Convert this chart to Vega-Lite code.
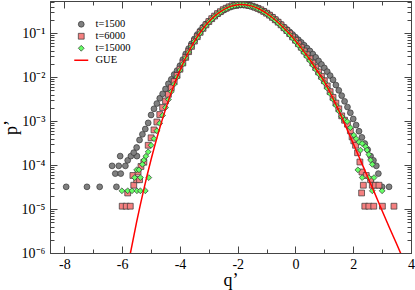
{
  "$schema": "https://vega.github.io/schema/vega-lite/v6.json",
  "width": 361,
  "height": 252,
  "autosize": "none",
  "padding": {"left": 50, "top": 1, "right": 4, "bottom": 37},
  "background": "white",
  "config": {
    "view": {"stroke": null},
    "font": "Liberation Serif",
    "axis": {
      "grid": false,
      "domainColor": "#444444",
      "domainWidth": 1,
      "tickColor": "#444444",
      "tickWidth": 1,
      "labelColor": "#000000",
      "titleColor": "#000000",
      "labelFont": "Liberation Serif",
      "titleFont": "Liberation Serif",
      "titleFontWeight": "normal",
      "labelFontSize": 14,
      "titleFontSize": 18,
      "labelFlush": false,
      "labelOverlap": false
    },
    "legend": {
      "orient": "none",
      "legendX": 26,
      "legendY": 18,
      "labelFont": "Liberation Serif",
      "labelFontSize": 10.5,
      "labelColor": "#000000",
      "symbolSize": 34,
      "labelOffset": 9,
      "rowPadding": 1,
      "padding": 0,
      "symbolStrokeWidth": 0.7,
      "symbolOpacity": 1
    }
  },
  "datasets": {
    "gue": [
      {"q": -5.75, "p": 7.65e-7}, {"q": -5.5, "p": 5.09e-6}, {"q": -5.25, "p": 2.84e-5}, {"q": -5.0, "p": 1.34e-4},
      {"q": -4.75, "p": 5.38e-4}, {"q": -4.5, "p": 1.85e-3}, {"q": -4.25, "p": 5.51e-3}, {"q": -4.0, "p": 0.01428},
      {"q": -3.75, "p": 0.03239}, {"q": -3.5, "p": 0.0649}, {"q": -3.25, "p": 0.1154}, {"q": -3.0, "p": 0.182},
      {"q": -2.75, "p": 0.261}, {"q": -2.5, "p": 0.341}, {"q": -2.25, "p": 0.407}, {"q": -2.0, "p": 0.4447},
      {"q": -1.9, "p": 0.4498}, {"q": -1.75, "p": 0.4462}, {"q": -1.5, "p": 0.4131}, {"q": -1.25, "p": 0.3544},
      {"q": -1.0, "p": 0.2837}, {"q": -0.75, "p": 0.2134}, {"q": -0.5, "p": 0.1519}, {"q": -0.25, "p": 0.1031},
      {"q": 0.0, "p": 0.06705}, {"q": 0.25, "p": 0.04168}, {"q": 0.5, "p": 0.02483}, {"q": 0.75, "p": 0.01396},
      {"q": 1.0, "p": 0.00794}, {"q": 1.25, "p": 0.0038}, {"q": 1.5, "p": 0.001738}, {"q": 1.75, "p": 0.000741},
      {"q": 2.0, "p": 0.000309}, {"q": 2.25, "p": 0.000129}, {"q": 2.5, "p": 5.37e-5}, {"q": 2.75, "p": 2.24e-5},
      {"q": 3.0, "p": 9.12e-6}, {"q": 3.25, "p": 3.8e-6}, {"q": 3.5, "p": 1.62e-6}, {"q": 3.75, "p": 6.76e-7}
    ],
    "pts": [
      {"s": "t=1500", "q": -7.94, "p": 3.2e-5}, {"s": "t=1500", "q": -7.22, "p": 3.2e-5}, {"s": "t=1500", "q": -6.78, "p": 3.2e-5}, {"s": "t=1500", "q": -6.2, "p": 3.2e-5},
      {"s": "t=1500", "q": -6.35, "p": 9.6e-5}, {"s": "t=1500", "q": -6.12, "p": 9.6e-5}, {"s": "t=1500", "q": -5.89, "p": 9.6e-5}, {"s": "t=1500", "q": -6.24, "p": 6.4e-5},
      {"s": "t=1500", "q": -6.05, "p": 6.4e-5}, {"s": "t=1500", "q": -6.07, "p": 1.6e-4}, {"s": "t=1500", "q": -5.81, "p": 1.28e-4}, {"s": "t=1500", "q": -5.49, "p": 1.6e-4},
      {"s": "t=1500", "q": -5.7, "p": 1.6e-4}, {"s": "t=1500", "q": -5.6, "p": 1.92e-4}, {"s": "t=1500", "q": -5.5, "p": 2.51e-4}, {"s": "t=1500", "q": -5.4, "p": 3.72e-4},
      {"s": "t=1500", "q": -5.3, "p": 5.01e-4}, {"s": "t=1500", "q": -5.2, "p": 6.61e-4}, {"s": "t=1500", "q": -5.1, "p": 9.12e-4}, {"s": "t=1500", "q": -5.0, "p": 1.38e-3},
      {"s": "t=1500", "q": -4.9, "p": 1.905e-3}, {"s": "t=1500", "q": -4.8, "p": 2.51e-3}, {"s": "t=1500", "q": -4.7, "p": 3.31e-3}, {"s": "t=1500", "q": -4.6, "p": 4.17e-3},
      {"s": "t=1500", "q": -4.5, "p": 5.37e-3}, {"s": "t=1500", "q": -4.4, "p": 7.08e-3}, {"s": "t=1500", "q": -4.3, "p": 8.91e-3}, {"s": "t=1500", "q": -4.2, "p": 0.01148},
      {"s": "t=1500", "q": -4.1, "p": 0.01413}, {"s": "t=1500", "q": -4.0, "p": 0.0182}, {"s": "t=1500", "q": -3.9, "p": 0.0251}, {"s": "t=1500", "q": -3.8, "p": 0.0339},
      {"s": "t=1500", "q": -3.7, "p": 0.0447}, {"s": "t=1500", "q": -3.6, "p": 0.0575}, {"s": "t=1500", "q": -3.5, "p": 0.0741}, {"s": "t=1500", "q": -3.4, "p": 0.0933},
      {"s": "t=1500", "q": -3.3, "p": 0.1148}, {"s": "t=1500", "q": -3.2, "p": 0.138}, {"s": "t=1500", "q": -3.1, "p": 0.162}, {"s": "t=1500", "q": -3.0, "p": 0.186},
      {"s": "t=1500", "q": -2.9, "p": 0.214}, {"s": "t=1500", "q": -2.8, "p": 0.245}, {"s": "t=1500", "q": -2.7, "p": 0.275}, {"s": "t=1500", "q": -2.6, "p": 0.302},
      {"s": "t=1500", "q": -2.5, "p": 0.331}, {"s": "t=1500", "q": -2.4, "p": 0.363}, {"s": "t=1500", "q": -2.3, "p": 0.389}, {"s": "t=1500", "q": -2.2, "p": 0.407},
      {"s": "t=1500", "q": -2.1, "p": 0.422}, {"s": "t=1500", "q": -2.0, "p": 0.431}, {"s": "t=1500", "q": -1.9, "p": 0.437}, {"s": "t=1500", "q": -1.8, "p": 0.437},
      {"s": "t=1500", "q": -1.7, "p": 0.431}, {"s": "t=1500", "q": -1.6, "p": 0.422}, {"s": "t=1500", "q": -1.5, "p": 0.407}, {"s": "t=1500", "q": -1.4, "p": 0.389},
      {"s": "t=1500", "q": -1.3, "p": 0.363}, {"s": "t=1500", "q": -1.2, "p": 0.339}, {"s": "t=1500", "q": -1.1, "p": 0.316}, {"s": "t=1500", "q": -1.0, "p": 0.288},
      {"s": "t=1500", "q": -0.9, "p": 0.263}, {"s": "t=1500", "q": -0.8, "p": 0.234}, {"s": "t=1500", "q": -0.7, "p": 0.207}, {"s": "t=1500", "q": -0.6, "p": 0.182},
      {"s": "t=1500", "q": -0.5, "p": 0.1585}, {"s": "t=1500", "q": -0.4, "p": 0.138}, {"s": "t=1500", "q": -0.3, "p": 0.1216}, {"s": "t=1500", "q": -0.2, "p": 0.1072},
      {"s": "t=1500", "q": -0.1, "p": 0.0933}, {"s": "t=1500", "q": 0.0, "p": 0.0813}, {"s": "t=1500", "q": 0.1, "p": 0.0708}, {"s": "t=1500", "q": 0.2, "p": 0.0617},
      {"s": "t=1500", "q": 0.3, "p": 0.0531}, {"s": "t=1500", "q": 0.4, "p": 0.0457}, {"s": "t=1500", "q": 0.5, "p": 0.0394}, {"s": "t=1500", "q": 0.6, "p": 0.0335},
      {"s": "t=1500", "q": 0.7, "p": 0.0282}, {"s": "t=1500", "q": 0.8, "p": 0.0234}, {"s": "t=1500", "q": 0.9, "p": 0.0195}, {"s": "t=1500", "q": 1.0, "p": 0.0162},
      {"s": "t=1500", "q": 1.1, "p": 0.01334}, {"s": "t=1500", "q": 1.2, "p": 0.01084}, {"s": "t=1500", "q": 1.3, "p": 8.71e-3}, {"s": "t=1500", "q": 1.4, "p": 6.61e-3},
      {"s": "t=1500", "q": 1.5, "p": 5.01e-3}, {"s": "t=1500", "q": 1.6, "p": 3.8e-3}, {"s": "t=1500", "q": 1.7, "p": 2.82e-3}, {"s": "t=1500", "q": 1.8, "p": 2.09e-3},
      {"s": "t=1500", "q": 1.9, "p": 1.55e-3}, {"s": "t=1500", "q": 2.0, "p": 1.122e-3}, {"s": "t=1500", "q": 2.1, "p": 8.13e-4}, {"s": "t=1500", "q": 2.2, "p": 5.89e-4},
      {"s": "t=1500", "q": 2.3, "p": 4.27e-4}, {"s": "t=1500", "q": 2.4, "p": 3.09e-4}, {"s": "t=1500", "q": 2.5, "p": 2.24e-4}, {"s": "t=1500", "q": 2.6, "p": 1.6e-4},
      {"s": "t=1500", "q": 2.7, "p": 1.28e-4}, {"s": "t=1500", "q": 2.8, "p": 9.6e-5}, {"s": "t=1500", "q": 2.87, "p": 6.4e-5}, {"s": "t=1500", "q": 3.0, "p": 3.2e-5},
      {"s": "t=1500", "q": 3.24, "p": 3.2e-5},

      {"s": "t=6000", "q": -6.0, "p": 1.16e-5}, {"s": "t=6000", "q": -5.86, "p": 1.16e-5}, {"s": "t=6000", "q": -5.72, "p": 1.16e-5}, {"s": "t=6000", "q": -5.81, "p": 2.32e-5},
      {"s": "t=6000", "q": -5.6, "p": 3.48e-5}, {"s": "t=6000", "q": -5.5, "p": 4.64e-5}, {"s": "t=6000", "q": -5.63, "p": 5.8e-5}, {"s": "t=6000", "q": -5.45, "p": 6.96e-5},
      {"s": "t=6000", "q": -5.35, "p": 9.3e-5}, {"s": "t=6000", "q": -5.25, "p": 1.16e-4}, {"s": "t=6000", "q": -5.4, "p": 4.64e-5},
      {"s": "t=6000", "q": -5.1, "p": 2.82e-4}, {"s": "t=6000", "q": -5.0, "p": 4.17e-4}, {"s": "t=6000", "q": -4.9, "p": 6.31e-4}, {"s": "t=6000", "q": -4.8, "p": 9.55e-4},
      {"s": "t=6000", "q": -4.7, "p": 1.413e-3}, {"s": "t=6000", "q": -4.6, "p": 2.04e-3}, {"s": "t=6000", "q": -4.5, "p": 2.88e-3}, {"s": "t=6000", "q": -4.4, "p": 4.07e-3},
      {"s": "t=6000", "q": -4.3, "p": 5.75e-3}, {"s": "t=6000", "q": -4.2, "p": 7.94e-3}, {"s": "t=6000", "q": -4.1, "p": 0.01096}, {"s": "t=6000", "q": -4.0, "p": 0.01514},
      {"s": "t=6000", "q": -3.9, "p": 0.0209}, {"s": "t=6000", "q": -3.8, "p": 0.0282}, {"s": "t=6000", "q": -3.7, "p": 0.038}, {"s": "t=6000", "q": -3.6, "p": 0.0501},
      {"s": "t=6000", "q": -3.5, "p": 0.0661}, {"s": "t=6000", "q": -3.4, "p": 0.0832}, {"s": "t=6000", "q": -3.3, "p": 0.1047}, {"s": "t=6000", "q": -3.2, "p": 0.1288},
      {"s": "t=6000", "q": -3.1, "p": 0.155}, {"s": "t=6000", "q": -3.0, "p": 0.184}, {"s": "t=6000", "q": -2.9, "p": 0.214}, {"s": "t=6000", "q": -2.8, "p": 0.245},
      {"s": "t=6000", "q": -2.7, "p": 0.279}, {"s": "t=6000", "q": -2.6, "p": 0.309}, {"s": "t=6000", "q": -2.5, "p": 0.343}, {"s": "t=6000", "q": -2.4, "p": 0.37},
      {"s": "t=6000", "q": -2.3, "p": 0.398}, {"s": "t=6000", "q": -2.2, "p": 0.419}, {"s": "t=6000", "q": -2.1, "p": 0.434}, {"s": "t=6000", "q": -2.0, "p": 0.447},
      {"s": "t=6000", "q": -1.9, "p": 0.452}, {"s": "t=6000", "q": -1.8, "p": 0.452}, {"s": "t=6000", "q": -1.7, "p": 0.442}, {"s": "t=6000", "q": -1.6, "p": 0.427},
      {"s": "t=6000", "q": -1.5, "p": 0.412}, {"s": "t=6000", "q": -1.4, "p": 0.389}, {"s": "t=6000", "q": -1.3, "p": 0.367}, {"s": "t=6000", "q": -1.2, "p": 0.341},
      {"s": "t=6000", "q": -1.1, "p": 0.313}, {"s": "t=6000", "q": -1.0, "p": 0.285}, {"s": "t=6000", "q": -0.9, "p": 0.257}, {"s": "t=6000", "q": -0.8, "p": 0.229},
      {"s": "t=6000", "q": -0.7, "p": 0.202}, {"s": "t=6000", "q": -0.6, "p": 0.178}, {"s": "t=6000", "q": -0.5, "p": 0.155}, {"s": "t=6000", "q": -0.4, "p": 0.133},
      {"s": "t=6000", "q": -0.3, "p": 0.1148}, {"s": "t=6000", "q": -0.2, "p": 0.0977}, {"s": "t=6000", "q": -0.1, "p": 0.0822}, {"s": "t=6000", "q": 0.0, "p": 0.0692},
      {"s": "t=6000", "q": 0.1, "p": 0.0575}, {"s": "t=6000", "q": 0.2, "p": 0.0479}, {"s": "t=6000", "q": 0.3, "p": 0.0394}, {"s": "t=6000", "q": 0.4, "p": 0.0324},
      {"s": "t=6000", "q": 0.5, "p": 0.0263}, {"s": "t=6000", "q": 0.6, "p": 0.0209}, {"s": "t=6000", "q": 0.7, "p": 0.0166}, {"s": "t=6000", "q": 0.8, "p": 0.01318},
      {"s": "t=6000", "q": 0.9, "p": 0.01047}, {"s": "t=6000", "q": 1.0, "p": 8.32e-3}, {"s": "t=6000", "q": 1.1, "p": 6.31e-3}, {"s": "t=6000", "q": 1.2, "p": 4.68e-3},
      {"s": "t=6000", "q": 1.3, "p": 3.47e-3}, {"s": "t=6000", "q": 1.4, "p": 2.57e-3}, {"s": "t=6000", "q": 1.5, "p": 1.905e-3}, {"s": "t=6000", "q": 1.6, "p": 1.318e-3},
      {"s": "t=6000", "q": 1.7, "p": 1.047e-3}, {"s": "t=6000", "q": 1.8, "p": 8.51e-4}, {"s": "t=6000", "q": 1.9, "p": 6.03e-4}, {"s": "t=6000", "q": 1.96, "p": 4.37e-4},
      {"s": "t=6000", "q": 2.02, "p": 3.55e-4}, {"s": "t=6000", "q": 2.08, "p": 2.82e-4}, {"s": "t=6000", "q": 2.15, "p": 1.905e-4}, {"s": "t=6000", "q": 2.23, "p": 1.175e-4},
      {"s": "t=6000", "q": 2.3, "p": 6.96e-5}, {"s": "t=6000", "q": 2.35, "p": 3.48e-5}, {"s": "t=6000", "q": 2.29, "p": 2.32e-5}, {"s": "t=6000", "q": 2.45, "p": 5.8e-5},
      {"s": "t=6000", "q": 2.6, "p": 4.64e-5}, {"s": "t=6000", "q": 2.66, "p": 3.48e-5}, {"s": "t=6000", "q": 2.77, "p": 3.48e-5}, {"s": "t=6000", "q": 2.89, "p": 3.48e-5},
      {"s": "t=6000", "q": 2.4, "p": 1.16e-5}, {"s": "t=6000", "q": 2.54, "p": 1.16e-5}, {"s": "t=6000", "q": 2.71, "p": 1.16e-5}, {"s": "t=6000", "q": 3.01, "p": 1.16e-5},
      {"s": "t=6000", "q": 3.41, "p": 1.16e-5},

      {"s": "t=15000", "q": -6.01, "p": 2.6e-5}, {"s": "t=15000", "q": -5.81, "p": 2.6e-5}, {"s": "t=15000", "q": -5.66, "p": 2.6e-5}, {"s": "t=15000", "q": -5.49, "p": 2.6e-5},
      {"s": "t=15000", "q": -5.37, "p": 2.6e-5}, {"s": "t=15000", "q": -5.2, "p": 2.6e-5}, {"s": "t=15000", "q": -5.57, "p": 5.19e-5}, {"s": "t=15000", "q": -5.37, "p": 5.19e-5},
      {"s": "t=15000", "q": -5.08, "p": 5.19e-5}, {"s": "t=15000", "q": -5.5, "p": 7.78e-5}, {"s": "t=15000", "q": -5.42, "p": 7.78e-5}, {"s": "t=15000", "q": -5.3, "p": 1.038e-4},
      {"s": "t=15000", "q": -5.25, "p": 1.297e-4}, {"s": "t=15000", "q": -5.18, "p": 1.585e-4},
      {"s": "t=15000", "q": -5.1, "p": 2.0e-4}, {"s": "t=15000", "q": -5.0, "p": 2.82e-4}, {"s": "t=15000", "q": -4.9, "p": 3.98e-4}, {"s": "t=15000", "q": -4.8, "p": 6.03e-4},
      {"s": "t=15000", "q": -4.7, "p": 8.91e-4}, {"s": "t=15000", "q": -4.6, "p": 1.349e-3}, {"s": "t=15000", "q": -4.5, "p": 2.04e-3}, {"s": "t=15000", "q": -4.4, "p": 3.09e-3},
      {"s": "t=15000", "q": -4.3, "p": 4.68e-3}, {"s": "t=15000", "q": -4.2, "p": 6.92e-3}, {"s": "t=15000", "q": -4.1, "p": 0.01}, {"s": "t=15000", "q": -4.0, "p": 0.01445},
      {"s": "t=15000", "q": -3.9, "p": 0.01995}, {"s": "t=15000", "q": -3.8, "p": 0.0275}, {"s": "t=15000", "q": -3.7, "p": 0.0372}, {"s": "t=15000", "q": -3.6, "p": 0.049},
      {"s": "t=15000", "q": -3.5, "p": 0.0646}, {"s": "t=15000", "q": -3.4, "p": 0.0804}, {"s": "t=15000", "q": -3.3, "p": 0.1012}, {"s": "t=15000", "q": -3.2, "p": 0.1245},
      {"s": "t=15000", "q": -3.1, "p": 0.15}, {"s": "t=15000", "q": -3.0, "p": 0.18}, {"s": "t=15000", "q": -2.9, "p": 0.207}, {"s": "t=15000", "q": -2.8, "p": 0.24},
      {"s": "t=15000", "q": -2.7, "p": 0.272}, {"s": "t=15000", "q": -2.6, "p": 0.303}, {"s": "t=15000", "q": -2.5, "p": 0.337}, {"s": "t=15000", "q": -2.4, "p": 0.363},
      {"s": "t=15000", "q": -2.3, "p": 0.389}, {"s": "t=15000", "q": -2.2, "p": 0.411}, {"s": "t=15000", "q": -2.1, "p": 0.426}, {"s": "t=15000", "q": -2.0, "p": 0.441},
      {"s": "t=15000", "q": -1.9, "p": 0.446}, {"s": "t=15000", "q": -1.8, "p": 0.445}, {"s": "t=15000", "q": -1.7, "p": 0.437}, {"s": "t=15000", "q": -1.6, "p": 0.423},
      {"s": "t=15000", "q": -1.5, "p": 0.408}, {"s": "t=15000", "q": -1.4, "p": 0.385}, {"s": "t=15000", "q": -1.3, "p": 0.361}, {"s": "t=15000", "q": -1.2, "p": 0.335},
      {"s": "t=15000", "q": -1.1, "p": 0.305}, {"s": "t=15000", "q": -1.0, "p": 0.279}, {"s": "t=15000", "q": -0.9, "p": 0.248}, {"s": "t=15000", "q": -0.8, "p": 0.221},
      {"s": "t=15000", "q": -0.7, "p": 0.195}, {"s": "t=15000", "q": -0.6, "p": 0.17}, {"s": "t=15000", "q": -0.5, "p": 0.148}, {"s": "t=15000", "q": -0.4, "p": 0.1265},
      {"s": "t=15000", "q": -0.3, "p": 0.108}, {"s": "t=15000", "q": -0.2, "p": 0.0916}, {"s": "t=15000", "q": -0.1, "p": 0.0771}, {"s": "t=15000", "q": 0.0, "p": 0.0646},
      {"s": "t=15000", "q": 0.1, "p": 0.0535}, {"s": "t=15000", "q": 0.2, "p": 0.0441}, {"s": "t=15000", "q": 0.3, "p": 0.0361}, {"s": "t=15000", "q": 0.4, "p": 0.0293},
      {"s": "t=15000", "q": 0.5, "p": 0.0237}, {"s": "t=15000", "q": 0.6, "p": 0.0188}, {"s": "t=15000", "q": 0.7, "p": 0.015}, {"s": "t=15000", "q": 0.8, "p": 0.01189},
      {"s": "t=15000", "q": 0.9, "p": 9.44e-3}, {"s": "t=15000", "q": 1.0, "p": 7.5e-3}, {"s": "t=15000", "q": 1.1, "p": 5.62e-3}, {"s": "t=15000", "q": 1.2, "p": 4.22e-3},
      {"s": "t=15000", "q": 1.3, "p": 3.13e-3}, {"s": "t=15000", "q": 1.4, "p": 2.29e-3}, {"s": "t=15000", "q": 1.5, "p": 1.7e-3}, {"s": "t=15000", "q": 1.6, "p": 1.259e-3},
      {"s": "t=15000", "q": 1.7, "p": 1.047e-3}, {"s": "t=15000", "q": 1.79, "p": 9.77e-4}, {"s": "t=15000", "q": 1.9, "p": 7.08e-4}, {"s": "t=15000", "q": 2.02, "p": 4.79e-4},
      {"s": "t=15000", "q": 2.1, "p": 3.98e-4}, {"s": "t=15000", "q": 2.2, "p": 3.31e-4}, {"s": "t=15000", "q": 2.31, "p": 3.09e-4}, {"s": "t=15000", "q": 2.43, "p": 2.63e-4},
      {"s": "t=15000", "q": 2.25, "p": 2.19e-4}, {"s": "t=15000", "q": 2.48, "p": 2.19e-4}, {"s": "t=15000", "q": 2.54, "p": 1.74e-4}, {"s": "t=15000", "q": 2.6, "p": 1.297e-4},
      {"s": "t=15000", "q": 2.66, "p": 1.038e-4}, {"s": "t=15000", "q": 2.16, "p": 7.78e-5}, {"s": "t=15000", "q": 2.31, "p": 5.19e-5}, {"s": "t=15000", "q": 2.54, "p": 5.19e-5},
      {"s": "t=15000", "q": 2.72, "p": 5.19e-5}, {"s": "t=15000", "q": 2.66, "p": 2.6e-5}, {"s": "t=15000", "q": 3.0, "p": 2.6e-5}
    ]
  },
  "layer": [
    {
      "data": {"name": "pts"},
      "mark": {"type": "point", "filled": true, "opacity": 1, "size": 34, "strokeWidth": 0.7},
      "encoding": {
        "x": {
          "field": "q", "type": "quantitative",
          "scale": {"domain": [-8.5, 4], "nice": false, "zero": false},
          "axis": {"orient": "bottom", "values": [-8, -6, -4, -2, 0, 2, 4], "tickSize": -7, "labelExpr": "'' + datum.value", "labelPadding": 11, "title": "q’", "titlePadding": 0}
        },
        "y": {
          "field": "p", "type": "quantitative",
          "scale": {"type": "log", "domain": [1e-6, 0.54], "nice": false},
          "axis": {"orient": "left", "values": [1e-6, 1e-5, 1e-4, 1e-3, 1e-2, 1e-1], "tickSize": -7, "labelExpr": "'10' + ['⁻⁶','⁻⁵','⁻⁴','⁻³','⁻²','⁻¹'][round(log(datum.value)/LN10)+6]", "labelPadding": 12, "title": "p’", "titlePadding": 1}
        },
        "color": {
          "field": "s", "type": "nominal",
          "scale": {"domain": ["t=1500", "t=6000", "t=15000", "GUE"], "range": ["#808080", "#f58080", "#66ff66", "#ff0000"]},
          "legend": {"title": null, "encode": {"symbols": {"update": {"strokeWidth": {"signal": "datum.value === 'GUE' ? 1.5 : 0.7"}}}}}
        },
        "shape": {
          "field": "s", "type": "nominal",
          "scale": {"domain": ["t=1500", "t=6000", "t=15000", "GUE"], "range": ["circle", "square", "diamond", "M-2.4,0L2.4,0"]},
          "legend": {"title": null}
        },
        "stroke": {
          "field": "s", "type": "nominal",
          "scale": {"domain": ["t=1500", "t=6000", "t=15000", "GUE"], "range": ["#333333", "#333333", "#333333", "#ff0000"]},
          "legend": {"title": null}
        }
      }
    },
    {
      "data": {"name": "gue"},
      "mark": {"type": "line", "color": "#ff0000", "strokeWidth": 1.5, "clip": true, "interpolate": "monotone"},
      "encoding": {
        "x": {"field": "q", "type": "quantitative", "axis": {"orient": "top", "values": [-8, -6, -4, -2, 0, 2, 4], "tickSize": -7, "labels": false, "title": null}},
        "y": {"field": "p", "type": "quantitative", "axis": {"orient": "right", "values": [1e-6, 1e-5, 1e-4, 1e-3, 1e-2, 1e-1], "tickSize": -7, "labels": false, "title": null}}
      }
    },
    {
      "data": {"name": "gue"},
      "mark": {"type": "line", "strokeOpacity": 0, "clip": true},
      "encoding": {
        "x": {"field": "q", "type": "quantitative", "axis": {"orient": "bottom", "values": [-7, -5, -3, -1, 1, 3], "tickSize": -4, "labels": false, "title": null}},
        "y": {"field": "p", "type": "quantitative", "axis": {"orient": "left", "values": [2e-6, 3e-6, 4e-6, 5e-6, 6e-6, 7e-6, 8e-6, 9e-6, 2e-5, 3e-5, 4e-5, 5e-5, 6e-5, 7e-5, 8e-5, 9e-5, 2e-4, 3e-4, 4e-4, 5e-4, 6e-4, 7e-4, 8e-4, 9e-4, 2e-3, 3e-3, 4e-3, 5e-3, 6e-3, 7e-3, 8e-3, 9e-3, 2e-2, 3e-2, 4e-2, 5e-2, 6e-2, 7e-2, 8e-2, 9e-2, 0.2, 0.3, 0.4, 0.5], "tickSize": -4, "labels": false, "title": null}}
      }
    },
    {
      "data": {"name": "gue"},
      "mark": {"type": "line", "strokeOpacity": 0, "clip": true},
      "encoding": {
        "x": {"field": "q", "type": "quantitative", "axis": {"orient": "top", "values": [-7, -5, -3, -1, 1, 3], "tickSize": -4, "labels": false, "title": null}},
        "y": {"field": "p", "type": "quantitative", "axis": {"orient": "right", "values": [2e-6, 3e-6, 4e-6, 5e-6, 6e-6, 7e-6, 8e-6, 9e-6, 2e-5, 3e-5, 4e-5, 5e-5, 6e-5, 7e-5, 8e-5, 9e-5, 2e-4, 3e-4, 4e-4, 5e-4, 6e-4, 7e-4, 8e-4, 9e-4, 2e-3, 3e-3, 4e-3, 5e-3, 6e-3, 7e-3, 8e-3, 9e-3, 2e-2, 3e-2, 4e-2, 5e-2, 6e-2, 7e-2, 8e-2, 9e-2, 0.2, 0.3, 0.4, 0.5], "tickSize": -4, "labels": false, "title": null}}
      }
    }
  ],
  "resolve": {"axis": {"x": "independent", "y": "independent"}}
}
